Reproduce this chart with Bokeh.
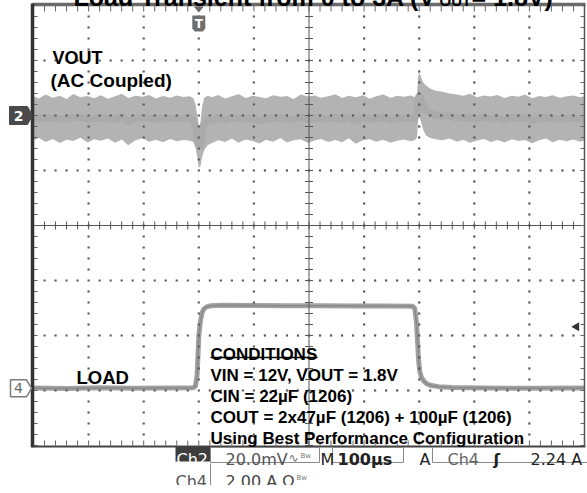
import numpy as np
from bokeh.plotting import figure
from bokeh.models import Range1d, Label
from bokeh.embed import file_html
from bokeh.resources import INLINE

# ---------------- scope settings ----------------
time_per_div = 100.0        # us / div  (M 100us)
n_xdiv = 10
n_ydiv = 8
ch2_mv_per_div = 20.0       # Ch2 20.0mV
ch4_a_per_div = 2.0         # Ch4 2.00 A
ch2_offset_div = 2.0
ch4_offset_div = -2.96
trigger_time_us = 300.0
trigger_level_a = 2.24

# ---------------- VOUT (AC coupled) noise envelope, mV ----------------
vout_t = [0, 10, 22, 35, 48, 60, 72, 85, 98, 110,
          122, 135, 148, 160, 172, 185, 198, 210, 222, 235,
          248, 260, 272, 284, 290, 294, 297, 300, 303, 306,
          310, 316, 324, 335, 348, 360, 372, 385, 398, 410,
          422, 435, 448, 460, 472, 485, 498, 510, 522, 535,
          548, 560, 572, 585, 598, 610, 622, 635, 648, 660,
          672, 685, 692, 696, 698, 700, 703, 707, 712, 720,
          730, 742, 755, 768, 780, 792, 805, 818, 830, 842,
          855, 868, 880, 892, 905, 918, 930, 942, 955, 968,
          980, 992, 1000]
vout_hi = [7.0, 6.2, 7.6, 6.5, 7.2, 6.0, 7.8, 6.6, 7.1, 6.3,
           7.4, 6.1, 7.0, 7.9, 6.4, 7.2, 6.8, 7.5, 6.2, 7.1,
           6.5, 7.3, 6.7, 7.0, 6.4, 4.0, 0.5, -4.0, -2.5, 3.5,
           6.5, 7.2, 6.6, 7.5, 6.2, 7.0, 7.8, 6.4, 7.2, 6.7,
           6.3, 7.4, 6.8, 7.1, 6.0, 7.6, 6.9, 7.3, 6.5, 7.0,
           7.7, 6.4, 7.2, 6.6, 7.4, 6.1, 7.0, 7.6, 6.5, 7.2,
           6.8, 7.3, 6.6, 8.0, 14.0, 15.5, 14.2, 12.2, 11.0, 9.8,
           9.0, 8.6, 8.0, 7.6, 7.2, 7.9, 6.6, 7.3, 6.9, 7.5,
           6.4, 7.2, 6.8, 7.6, 6.3, 7.1, 6.7, 7.4, 6.5, 7.0,
           7.3, 6.6, 7.0]
vout_lo = [-9.0, -8.2, -9.6, -8.5, -10.0, -8.8, -9.3, -8.1, -9.8, -8.6,
           -9.2, -8.4, -9.9, -8.7, -10.8, -9.0, -8.3, -9.5, -8.8, -9.7,
           -8.5, -9.4, -8.9, -9.2, -9.6, -11.5, -15.0, -19.0, -18.5, -15.0,
           -12.5, -10.8, -10.0, -9.0, -9.6, -8.4, -9.9, -8.7, -9.3, -10.2,
           -8.8, -9.5, -8.2, -9.8, -9.0, -8.6, -10.0, -9.1, -8.5, -9.6,
           -8.9, -9.7, -8.3, -10.3, -9.0, -8.6, -9.5, -8.8, -9.9, -9.2,
           -8.7, -9.4, -9.0, -8.0, -1.5, 0.0, -2.0, -5.0, -7.2, -8.2,
           -8.6, -9.0, -8.4, -9.5, -8.8, -9.9, -9.1, -8.5, -9.6, -8.9,
           -9.8, -8.6, -9.3, -8.9, -10.1, -9.0, -8.4, -9.7, -8.8, -9.4,
           -8.7, -9.5, -9.0]

# ---------------- LOAD current, A ----------------
load_t = [0, 60, 120, 180, 240, 290, 294, 297, 300, 303,
          306, 309, 314, 322, 340, 400, 460, 520, 580, 640,
          688, 692, 695, 697, 699, 701, 704, 708, 714, 722,
          735, 760, 820, 900, 1000]
load_a = [0.01, -0.01, 0.02, 0.0, 0.01, 0.02, 0.08, 0.5, 1.9, 2.45,
          2.75, 2.88, 2.96, 3.0, 3.02, 3.01, 3.0, 3.0, 2.99, 2.99,
          2.98, 2.9, 2.4, 1.7, 1.0, 0.62, 0.4, 0.27, 0.16, 0.1,
          0.06, 0.03, 0.01, 0.0, 0.01]

# ---------------- texts ----------------
title_main = "Load Transient from 0 to 3A (V"
title_sub = "OUT"
title_end = " = 1.8V)"
cond_head = "CONDITIONS"
cond_lines = ["VIN = 12V, VOUT = 1.8V",
              "CIN = 22µF (1206)",
              "COUT = 2x47µF (1206) + 100µF (1206)",
              "Using Best Performance Configuration"]

# ---------------- geometry (page pixels) ----------------
W, H = 587, 493
L_PX, R_PX, T_PX, B_PX = 33.0, 584.0, 13.0, 453.0
px_per_us = (R_PX - L_PX) / (n_xdiv * time_per_div)
px_per_div = (B_PX - T_PX) / n_ydiv
CY = (T_PX + B_PX) / 2.0
T_END = n_xdiv * time_per_div
Y_TOP = n_ydiv / 2.0


def X(px):
    return (px - L_PX) / px_per_us


def Y(py):
    return (CY - py) / px_per_div


def dx(px):
    return px / px_per_us


def dy(px):
    return px / px_per_div


# the canvas is pulled up over the page's top margin so it covers the whole window
p = figure(width=W, height=H, x_range=Range1d(X(0), X(W)), y_range=Range1d(Y(H), Y(0)),
           output_backend="svg", toolbar_location=None, min_border=0,
           x_axis_type=None, y_axis_type=None,
           background_fill_color="white", border_fill_color="white",
           outline_line_color=None,
           styles={"margin-top": "-8px"})

# ---------------- traces ----------------
v_hi = ch2_offset_div + np.array(vout_hi) / ch2_mv_per_div
v_lo = ch2_offset_div + np.array(vout_lo) / ch2_mv_per_div
p.varea(x=vout_t, y1=v_lo, y2=v_hi, fill_color="#b3b3b3")
p.line(x=vout_t, y=(v_hi + v_lo) / 2, line_color="#9a9a9a", line_width=7, line_alpha=0.35)

load_y = ch4_offset_div + np.array(load_a) / ch4_a_per_div
p.line(x=load_t, y=load_y, line_color="#a2a2a2", line_width=5, line_join="round")
p.line(x=load_t, y=load_y, line_color="#8a8a8a", line_width=1.5, line_join="round")

# ---------------- graticule ----------------
sub = 0.2
xs_sub = np.round(np.arange(0, n_xdiv + 1e-9, sub), 3)
ys_sub = np.round(np.arange(-Y_TOP, Y_TOP + 1e-9, sub), 3)
pts = set()
for k in range(1, n_xdiv):
    if k == n_xdiv // 2:
        continue
    for yv in ys_sub[1:-1]:
        pts.add((k, yv))
for j in range(-int(Y_TOP) + 1, int(Y_TOP)):
    if j == 0:
        continue
    for xv in xs_sub[1:-1]:
        pts.add((xv, j))
pts = sorted(pts)
p.scatter(x=[a * time_per_div for a, b in pts], y=[b for a, b in pts],
          marker="square", size=2.2, fill_color="#5a5a5a", line_color=None)

xc = n_xdiv / 2 * time_per_div
p.segment(x0=[xc, 0], y0=[-Y_TOP, 0], x1=[xc, T_END], y1=[Y_TOP, 0],
          line_color="#555555", line_width=1)

# ticks on centre lines
p.segment(x0=[xc - dx(4)] * len(ys_sub), y0=ys_sub, x1=[xc + dx(4)] * len(ys_sub), y1=ys_sub,
          line_color="#555555", line_width=1)
p.segment(x0=xs_sub * time_per_div, y0=[-dy(4)] * len(xs_sub), x1=xs_sub * time_per_div,
          y1=[dy(4)] * len(xs_sub), line_color="#555555", line_width=1)

# border ticks
p.segment(x0=xs_sub * time_per_div, y0=[Y_TOP] * len(xs_sub), x1=xs_sub * time_per_div,
          y1=[Y_TOP - dy(6)] * len(xs_sub), line_color="#666666", line_width=1)
p.segment(x0=xs_sub * time_per_div, y0=[-Y_TOP] * len(xs_sub), x1=xs_sub * time_per_div,
          y1=[-Y_TOP + dy(5)] * len(xs_sub), line_color="#666666", line_width=1)
p.segment(x0=[0] * len(ys_sub), y0=ys_sub, x1=[dx(4)] * len(ys_sub), y1=ys_sub,
          line_color="#666666", line_width=1)
p.segment(x0=[T_END] * len(ys_sub), y0=ys_sub, x1=[T_END - dx(4)] * len(ys_sub), y1=ys_sub,
          line_color="#666666", line_width=1)

# border lines
p.segment(x0=[X(L_PX - 1)], y0=[Y(T_PX - 1)], x1=[X(R_PX + 1)], y1=[Y(T_PX - 1)],
          line_color="#6a6a6a", line_width=3.5)
p.segment(x0=[X(L_PX - 1)], y0=[Y(T_PX - 2)], x1=[X(L_PX - 1)], y1=[Y(B_PX + 2)],
          line_color="#333333", line_width=3.5)
p.segment(x0=[X(L_PX - 1)], y0=[Y(B_PX + 1)], x1=[X(R_PX + 1)], y1=[Y(B_PX + 1)],
          line_color="#444444", line_width=2)
p.segment(x0=[T_END], y0=[Y(T_PX - 1)], x1=[T_END], y1=[Y(B_PX + 1)],
          line_color="#555555", line_width=1.5)

# ---------------- channel / trigger markers ----------------
y2 = ch2_offset_div
p.patch(x=[X(9), X(27), X(32), X(27), X(9)],
        y=[y2 + dy(9), y2 + dy(9), y2, y2 - dy(9), y2 - dy(9)],
        fill_color="#4a4a4a", line_color="#4a4a4a")
p.add_layout(Label(x=X(18), y=y2, text="2", text_color="white", text_font="DejaVu Sans",
                   text_font_size="14px", text_font_style="bold", text_align="center",
                   text_baseline="middle"))
y4 = ch4_offset_div
p.patch(x=[X(10), X(26), X(31), X(26), X(10)],
        y=[y4 + dy(8.5), y4 + dy(8.5), y4, y4 - dy(8.5), y4 - dy(8.5)],
        fill_color="white", line_color="#7a7a7a", line_width=1.5)
p.add_layout(Label(x=X(18), y=y4, text="4", text_color="#6a6a6a", text_font="DejaVu Sans",
                   text_font_size="14px", text_align="center", text_baseline="middle"))

# trigger position marker (T)
tt = trigger_time_us
p.patch(x=[tt - dx(5), tt + dx(5), tt], y=[Y(14), Y(14), Y(20)],
        fill_color="#666666", line_color=None)
p.patch(x=[tt - dx(6.5), tt + dx(6.5), tt + dx(6.5), tt + dx(4), tt - dx(4), tt - dx(6.5)],
        y=[Y(23), Y(23), Y(36), Y(39), Y(39), Y(36)],
        fill_color="#6e6e6e", line_color=None)
p.add_layout(Label(x=tt, y=Y(31), text="T", text_color="white", text_font="DejaVu Sans",
                   text_font_size="12px", text_font_style="bold", text_align="center",
                   text_baseline="middle"))

# trigger level marker on right
p.scatter(x=[X(576)], y=[ch4_offset_div + trigger_level_a / ch4_a_per_div],
          marker="triangle", angle=np.pi / 2, size=9, fill_color="#333333", line_color=None)

# ---------------- annotation texts ----------------
BF = "Liberation Sans"


def lab(px, py, txt, size, color="black", style="bold", font=BF, align="left"):
    p.add_layout(Label(x=X(px), y=Y(py), text=txt, text_font=font, text_font_size=size,
                       text_font_style=style, text_color=color, text_align=align,
                       text_baseline="alphabetic"))


lab(73, 4, title_main, "25px")
lab(439, 8, title_sub, "15px")
lab(471, 4, title_end, "25px")

lab(52, 65, "VOUT", "18px")
lab(50, 88, "(AC Coupled)", "19px")
lab(76, 385, "LOAD", "18.5px")

lab(210, 362, cond_head, "17px")
p.segment(x0=[X(210)], y0=[Y(365)], x1=[X(317)], y1=[Y(365)], line_color="black", line_width=1.6)
for i, txt in enumerate(cond_lines):
    lab(210, 383 + 21 * i, txt, "17px")

# ---------------- status bar ----------------
SF = "DejaVu Sans"
p.quad(left=[X(175)], right=[X(210)], top=[Y(454)], bottom=[Y(469)],
       fill_color="#3e3e3e", line_color=None)
lab(176, 467, "Ch2", "16px", color="white", style="normal", font=SF)
p.quad(left=[X(210)], right=[X(319)], top=[Y(455)], bottom=[Y(470)],
       fill_color=None, line_color="#8a8a8a", line_width=1)
lab(225, 467, "20.0mV", "16px", color="#555555", style="normal", font=SF)
lab(288, 465, "∿", "12px", color="#777777", style="normal", font=SF)
lab(300, 463, "Bw", "7px", color="#777777", style="normal", font=SF)
lab(320, 467, "M", "16px", color="#222222", style="normal", font=SF)
p.quad(left=[X(332)], right=[X(403)], top=[Y(455)], bottom=[Y(470)],
       fill_color=None, line_color="#8a8a8a", line_width=1)
lab(337, 467, "100µs", "16px", color="#222222", style="bold", font=SF)
lab(419, 467, "A", "16px", color="#222222", style="normal", font=SF)
p.segment(x0=[X(432), X(432)], y0=[Y(455), Y(470)], x1=[X(432), X(590)], y1=[Y(470), Y(470)],
          line_color="#8a8a8a", line_width=1)
lab(447, 467, "Ch4", "16px", color="#666666", style="normal", font=SF)
lab(493, 467, "ʃ", "16px", color="#222222", style="bold", font=SF)
lab(530, 467, "2.24 A", "16px", color="#222222", style="normal", font=SF)

lab(175, 489, "Ch4", "16px", color="#555555", style="normal", font=SF)
p.segment(x0=[X(210)], y0=[Y(471)], x1=[X(210)], y1=[Y(493)], line_color="#8a8a8a", line_width=1)
lab(225, 489, "2.00 A Ω", "16px", color="#444444", style="normal", font=SF)
lab(296, 485, "Bw", "7px", color="#777777", style="normal", font=SF)

open("out.html", "w").write(file_html(p, INLINE))
